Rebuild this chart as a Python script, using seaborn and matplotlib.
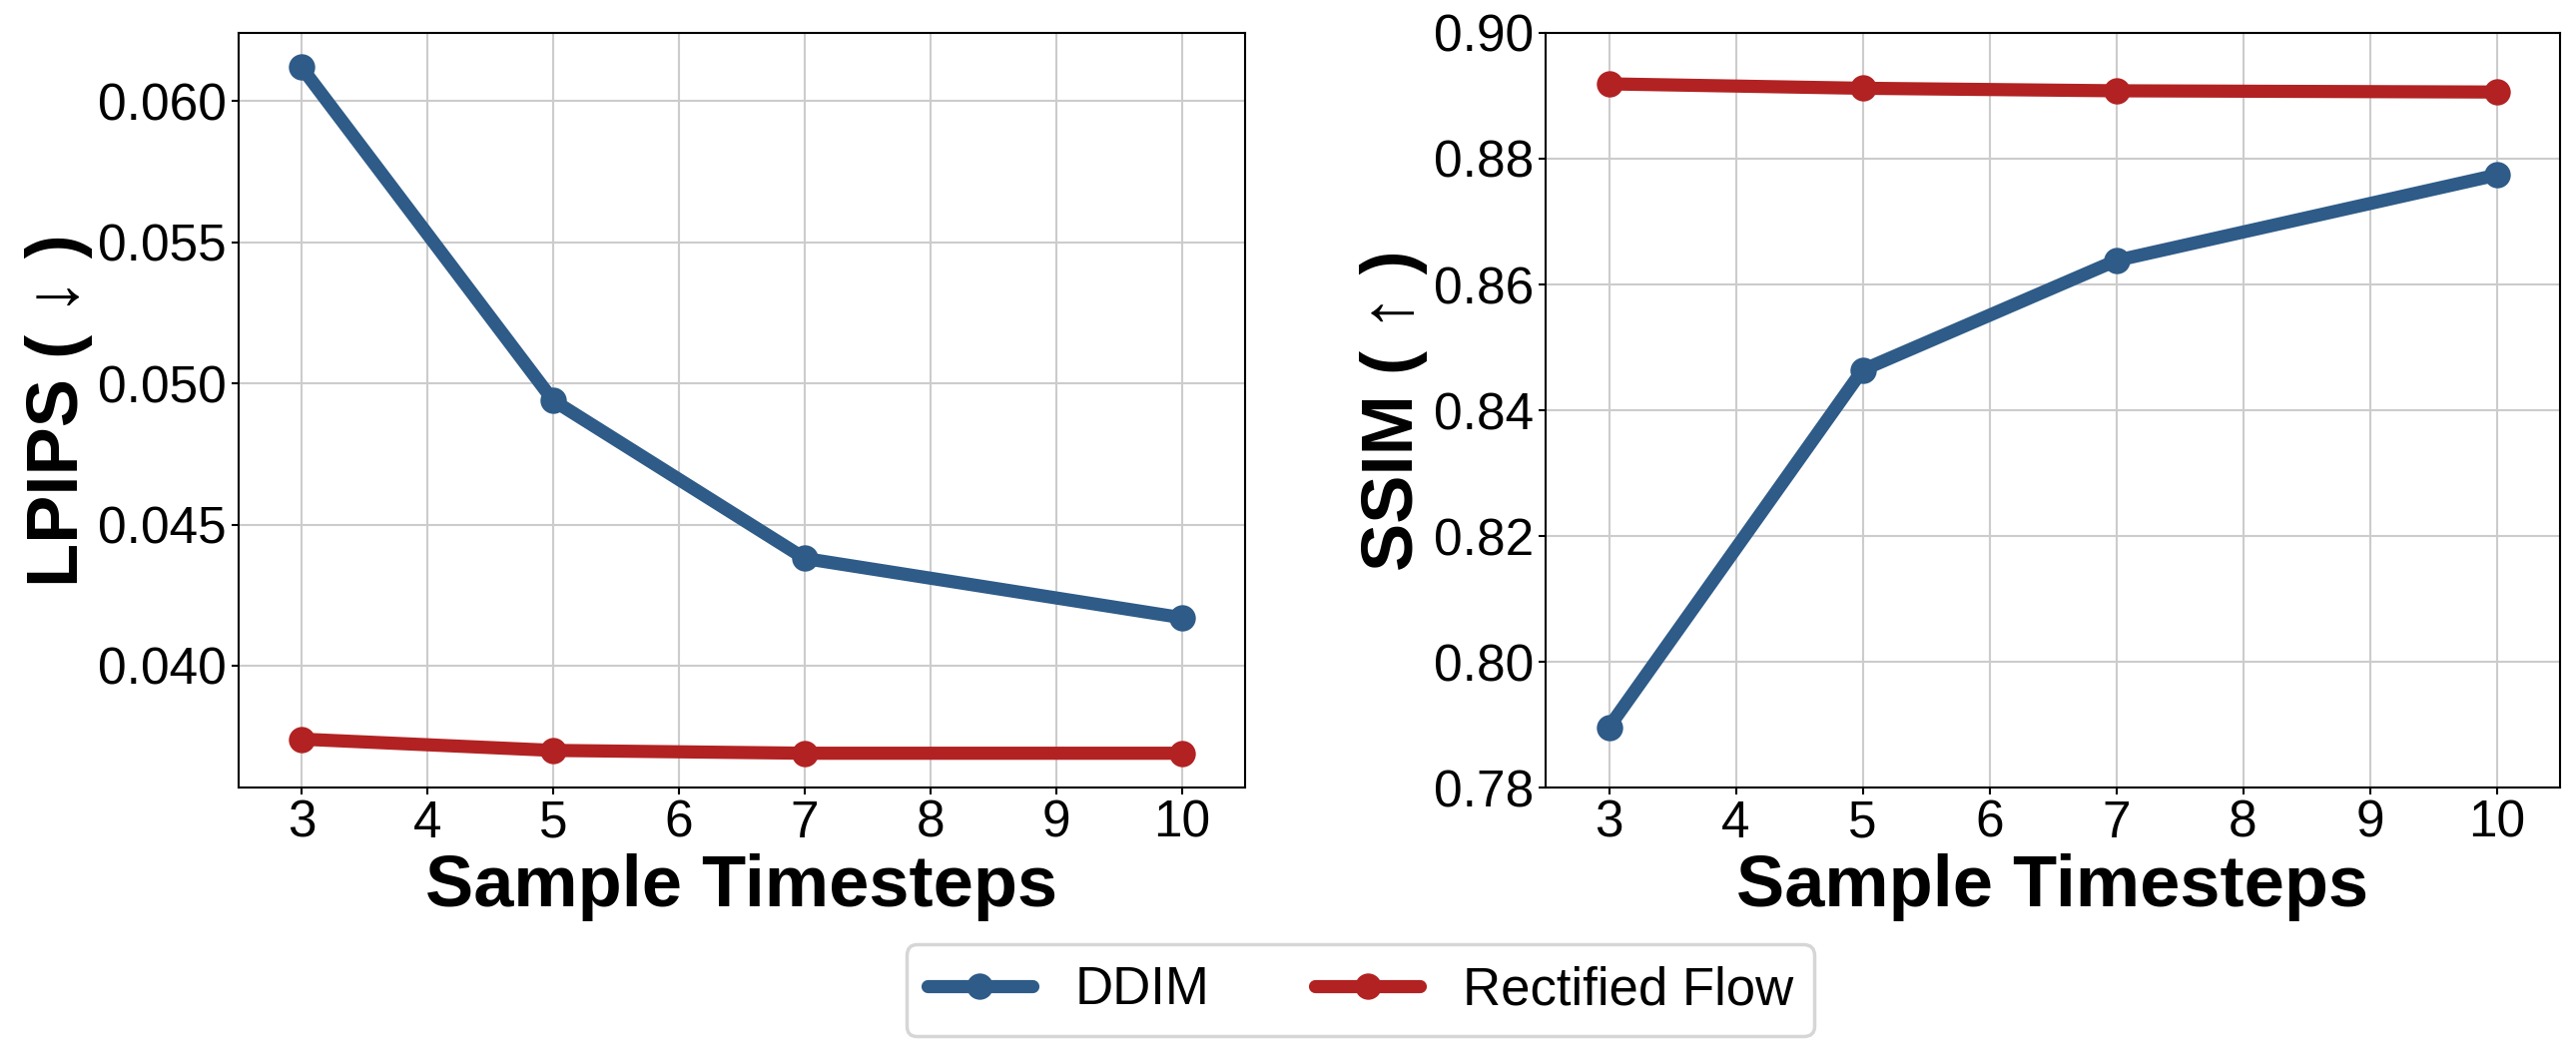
import pandas as pd
import seaborn as sns
import matplotlib.pyplot as plt

steps = [3, 5, 7, 10]
lpips_ddim = [0.0612, 0.0494, 0.0438, 0.0417]
lpips_rf = [0.0374, 0.0370, 0.0369, 0.0369]
ssim_ddim = [0.7896, 0.8464, 0.8638, 0.8774]
ssim_rf = [0.8919, 0.8912, 0.8908, 0.8906]
methods = ["DDIM", "Rectified Flow"]
colors = {"DDIM": "#2E5B88", "Rectified Flow": "#B22222"}

sns.set_style("whitegrid", {"axes.edgecolor": "black", "grid.color": "#cccccc",
                            "text.color": "black", "axes.labelcolor": "black",
                            "xtick.color": "black", "ytick.color": "black"})
plt.rcParams['font.family'] = ['Liberation Sans', 'DejaVu Sans']

df = pd.DataFrame({
    "Sample Timesteps": steps * 4,
    "value": lpips_ddim + lpips_rf + ssim_ddim + ssim_rf,
    "Method": ["DDIM"] * 4 + ["Rectified Flow"] * 4 + ["DDIM"] * 4 + ["Rectified Flow"] * 4,
    "Metric": ["LPIPS"] * 8 + ["SSIM"] * 8,
})

fig = plt.figure(figsize=(25.8, 10.54), dpi=100)
ax1 = fig.add_axes([0.0926, 0.2514, 0.3907, 0.7173])
ax2 = fig.add_axes([0.6, 0.2514, 0.3938, 0.7173])

for ax, metric, ylab in [(ax1, "LPIPS", "LPIPS ( ↓ )"), (ax2, "SSIM", "SSIM ( ↑ )")]:
    sub = df[df["Metric"] == metric]
    sns.lineplot(data=sub, x="Sample Timesteps", y="value", hue="Method",
                 hue_order=methods, palette=colors, marker="o", markersize=19,
                 markeredgewidth=0, linewidth=9.5, ax=ax, legend=(metric == "LPIPS"))
    ax.set_xlim(2.5, 10.5)
    ax.set_xticks(range(3, 11))
    ax.set_xlabel("Sample Timesteps", fontsize=52, fontweight="bold", color="black")
    ax.set_ylabel(ylab, fontsize=52, fontweight="bold", color="black")
    ax.tick_params(labelsize=37, length=5, width=1.5, color="black",
                   labelcolor="black", left=True, bottom=True)
    ax.grid(True, color="#cccccc", linewidth=1.5)
    for s in ax.spines.values():
        s.set_color("black")
        s.set_linewidth(1.5)

ax1.set_yticks([0.040, 0.045, 0.050, 0.055, 0.060])
ax1.set_yticklabels(["0.040", "0.045", "0.050", "0.055", "0.060"])
ax2.set_ylim(0.78, 0.90)
ax2.set_yticks([0.78, 0.80, 0.82, 0.84, 0.86, 0.88, 0.90])
ax2.set_yticklabels(["0.78", "0.80", "0.82", "0.84", "0.86", "0.88", "0.90"])

handles, labels = ax1.get_legend_handles_labels()
ax1.get_legend().remove()
leg = fig.legend(handles, labels, loc="lower center", bbox_to_anchor=(0.528, 0.015),
                 ncol=2, fontsize=38, frameon=True, fancybox=True, handlelength=2.0,
                 columnspacing=2.0, borderaxespad=0)
leg.get_frame().set_edgecolor("#cccccc")
leg.get_frame().set_linewidth(2.5)
for t in leg.get_texts():
    t.set_color("black")

fig.savefig("out.png", dpi=100)
